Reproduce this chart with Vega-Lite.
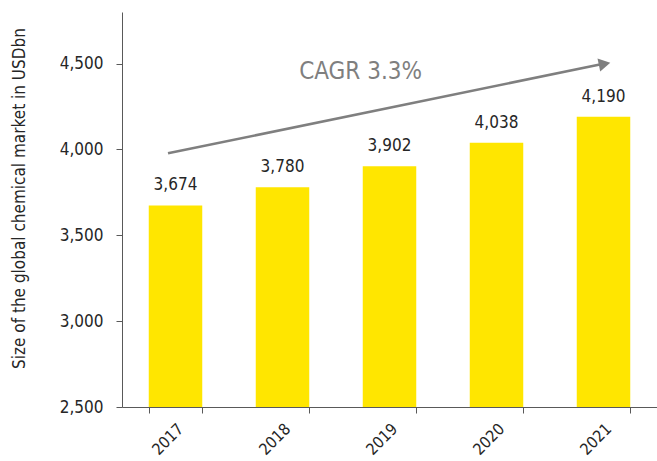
{
  "$schema": "https://vega.github.io/schema/vega-lite/v6.json",
  "autosize": "none",
  "width": 535,
  "height": 395,
  "padding": {"left": 122, "top": 12, "right": 0, "bottom": 54},
  "background": "white",
  "config": {
    "view": {"stroke": null},
    "font": "DejaVu Sans Condensed"
  },
  "datasets": {
    "main": [
      {"year": "2017", "value": 3674, "label": "3,674"},
      {"year": "2018", "value": 3780, "label": "3,780"},
      {"year": "2019", "value": 3902, "label": "3,902"},
      {"year": "2020", "value": 4038, "label": "4,038"},
      {"year": "2021", "value": 4190, "label": "4,190"}
    ],
    "arrow": [
      {"x1": 2016.93, "y1": 3977, "x2": 2021.0, "y2": 4499}
    ],
    "head": [
      {"hx": 2021.01, "hy": 4498}
    ],
    "note": [
      {"tx": 2018.73, "ty": 4448, "text": "CAGR 3.3%"}
    ]
  },
  "layer": [
    {
      "data": {"name": "main"},
      "encoding": {
        "x": {
          "field": "year", "type": "ordinal",
          "scale": {"paddingInner": 0.5, "paddingOuter": 0.25},
          "axis": {
            "orient": "bottom",
            "title": null, "labelAngle": -45, "labelAlign": "right", "labelBaseline": "middle",
            "tickBand": "extent",
            "domainColor": "#595959", "tickColor": "#595959", "tickSize": 6,
            "labelFontSize": 16, "labelColor": "#262626", "labelPadding": 13, "labelOffset": 5,
            "labelFont": "DejaVu Sans Condensed"
          }
        },
        "y": {
          "field": "value", "type": "quantitative",
          "scale": {"domain": [2500, 4800], "zero": false, "nice": false},
          "axis": {
            "title": "Size of the global chemical market in USDbn",
            "values": [2500, 3000, 3500, 4000, 4500],
            "format": ",d", "grid": false,
            "domainColor": "#595959", "tickColor": "#595959", "tickSize": 6,
            "labelFontSize": 17, "labelColor": "#262626", "labelPadding": 13,
            "labelFont": "DejaVu Sans Condensed",
            "titleFont": "DejaVu Sans Condensed", "titleFontSize": 17,
            "titleFontWeight": "normal", "titleColor": "#262626", "titlePadding": 31,
            "titleY": 186
          }
        }
      },
      "layer": [
        {
          "mark": {"type": "bar", "color": "#FFE600"},
          "encoding": {"y2": {"datum": 2500}}
        },
        {
          "mark": {"type": "text", "dy": -20, "fontSize": 17, "color": "#262626", "font": "DejaVu Sans Condensed"},
          "encoding": {"text": {"field": "label"}}
        }
      ]
    },
    {
      "data": {"name": "arrow"},
      "mark": {"type": "rule", "color": "#7f7f7f", "strokeWidth": 2.5},
      "encoding": {
        "x": {"field": "x1", "type": "quantitative", "scale": {"domain": [2016.5, 2021.5], "nice": false, "zero": false}, "axis": null},
        "x2": {"field": "x2"},
        "y": {"field": "y1", "type": "quantitative"},
        "y2": {"field": "y2"}
      }
    },
    {
      "data": {"name": "head"},
      "mark": {"type": "point", "shape": "triangle-right", "filled": true, "color": "#7f7f7f", "size": 180, "angle": 348.4, "opacity": 1},
      "encoding": {
        "x": {"field": "hx", "type": "quantitative", "scale": {"domain": [2016.5, 2021.5], "nice": false, "zero": false}, "axis": null},
        "y": {"field": "hy", "type": "quantitative"}
      }
    },
    {
      "data": {"name": "note"},
      "mark": {"type": "text", "fontSize": 24, "color": "#7f7f7f", "font": "DejaVu Sans Condensed"},
      "encoding": {
        "x": {"field": "tx", "type": "quantitative", "scale": {"domain": [2016.5, 2021.5], "nice": false, "zero": false}, "axis": null},
        "y": {"field": "ty", "type": "quantitative"},
        "text": {"field": "text"}
      }
    }
  ],
  "resolve": {"scale": {"x": "independent"}}
}
